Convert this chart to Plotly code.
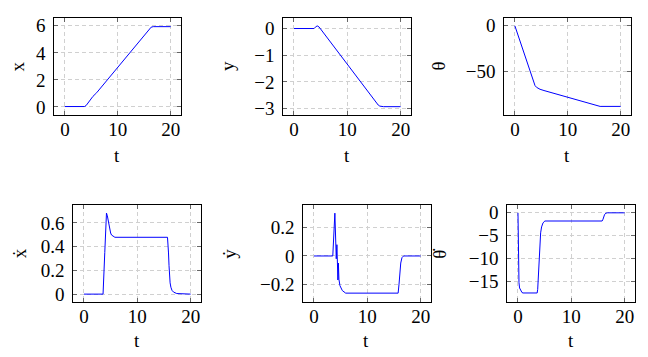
import plotly.graph_objects as go

# ---------------- data ----------------
t_x = [0, 3.7, 4.0, 4.4, 4.8, 5.3, 6.0, 15.7, 16.0, 16.3, 16.7, 20]
x_pos = [0.03, 0.03, 0.1, 0.33, 0.55, 0.78, 1.05, 5.68, 5.82, 5.9, 5.94, 5.94]

t_y = [0, 3.75, 4.0, 4.35, 4.7, 5.0, 5.5, 6.0, 15.8, 16.1, 16.4, 16.8, 20]
y_pos = [0, 0, 0.05, 0.1, 0.06, -0.02, -0.14, -0.27, -2.87, -2.91, -2.93, -2.93, -2.93]

t_th = [0, 3.8, 4.1, 4.4, 4.75, 5.5, 15.7, 16.1, 20]
theta = [0, -65.5, -67.5, -68.8, -69.6, -71.0, -88.0, -88.4, -88.4]

t_xd = [0, 3.58, 3.9, 4.1, 4.22, 4.38, 4.53, 4.7, 4.85, 5.0, 5.17, 5.45, 5.8,
        15.66, 15.75, 15.85, 15.95, 16.04, 16.15, 16.3, 16.5, 16.8, 17.4, 20]
x_dot = [0, 0, 0.35, 0.62, 0.683, 0.66, 0.622, 0.575, 0.54, 0.515, 0.498, 0.486, 0.479,
         0.479, 0.43, 0.347, 0.24, 0.154, 0.095, 0.058, 0.032, 0.017, 0.005, 0.0]

t_yd = [0, 3.53, 3.92, 4.18, 4.3, 4.49, 4.58, 4.68, 4.87, 5.32, 5.95,
        15.78, 15.95, 16.1, 16.27, 16.5, 16.8, 20]
y_dot = [0, 0, 0.303, -0.02, 0.08, -0.17, -0.05, -0.165, -0.21, -0.245, -0.263,
         -0.263, -0.2, -0.12, -0.05, -0.012, 0, 0]

t_thd = [0, 0.02, 0.1, 0.19, 0.3, 0.51, 0.75, 0.95, 3.6, 3.7, 3.78, 3.95, 4.1, 4.25,
         4.43, 4.7, 5.05, 15.78, 15.95, 16.1, 16.25, 16.5, 16.8, 20]
theta_dot = [0, -5, -11.5, -15.3, -16.5, -17.1, -17.5, -17.6, -17.6, -16.8, -14.5, -10,
             -6.6, -4.4, -3.1, -2.2, -1.8, -1.8, -1.4, -0.8, -0.35, -0.08, 0, 0]

x_ticks = [0, 10, 20]
y_labels = ["x", "y", "θ", "ẋ", "ẏ", "θ̇"]
x_label = "t"
y_tick_sets = [[0, 2, 4, 6], [-3, -2, -1, 0], [-50, 0],
               [0, 0.2, 0.4, 0.6], [-0.2, 0, 0.2], [-15, -10, -5, 0]]
y_ranges = [[-0.6, 6.58], [-3.245, 0.395], [-97.9, 8.6],
            [-0.069, 0.749], [-0.328, 0.359], [-19.65, 1.66]]

series = [(t_x, x_pos), (t_y, y_pos), (t_th, theta),
          (t_xd, x_dot), (t_yd, y_dot), (t_thd, theta_dot)]

# ---------------- layout (pixel geometry) ----------------
W, H = 648, 357
panels_px = [  # left, right, top, bottom of plot frames
    (54.3, 181.3, 15.3, 114.3), (283.3, 411.3, 15.3, 114.3), (504.3, 631.3, 15.3, 114.3),
    (73.3, 201.3, 206.3, 305.3), (303.3, 431.3, 206.3, 305.3), (507.3, 635.3, 206.3, 305.3),
]
ytitle_px = [(18.0, 64.8), (227.5, 64.8), (439.0, 64.8),
             (19.5, 255.8), (230.0, 255.8), (440.0, 255.8)]
xtitle_px = [(117.3, 156), (346.7, 156), (567.3, 156),
             (136.7, 344), (366.0, 344), (570.7, 344)]

FONT = "Liberation Serif"
FS = 19

fig = go.Figure()
layout = dict(
    width=W, height=H, margin=dict(l=0, r=0, t=0, b=0),
    paper_bgcolor="white", plot_bgcolor="white", showlegend=False,
    font=dict(family=FONT, size=FS, color="black"),
)
annotations = []
for i, ((tt, vv), (l, r, tp, bt)) in enumerate(zip(series, panels_px)):
    n = i + 1
    xa = "x" if n == 1 else f"x{n}"
    ya = "y" if n == 1 else f"y{n}"
    fig.add_trace(go.Scatter(x=tt, y=vv, mode="lines", xaxis=xa, yaxis=ya,
                             line=dict(color="#0000ff", width=1)))
    common = dict(showline=True, linecolor="black", linewidth=1, mirror="allticks",
                  ticks="inside", ticklen=4, tickwidth=1, tickcolor="#666666",
                  showgrid=True, gridcolor="#d0d0d0", gridwidth=1, griddash="4px,3px",
                  zeroline=False, tickfont=dict(family=FONT, size=FS, color="black"))
    layout[f"xaxis{n if n > 1 else ''}"] = dict(
        domain=[l / W, r / W], anchor=ya, range=[-2, 22], tickmode="array",
        tickvals=x_ticks, ticklabelstandoff=-3, **common)
    layout[f"yaxis{n if n > 1 else ''}"] = dict(
        domain=[1 - bt / H, 1 - tp / H], anchor=xa, range=y_ranges[i], tickmode="array",
        tickvals=y_tick_sets[i], ticklabelstandoff=4, **common)
    yx, yy = ytitle_px[i]
    annotations.append(dict(text=y_labels[i], xref="paper", yref="paper", x=yx / W,
                            y=1 - yy / H, xanchor="center", yanchor="middle",
                            textangle=-90, showarrow=False,
                            font=dict(family=FONT, size=FS, color="black")))
    tx, ty = xtitle_px[i]
    annotations.append(dict(text=x_label, xref="paper", yref="paper", x=tx / W,
                            y=1 - ty / H, xanchor="center", yanchor="middle",
                            showarrow=False, font=dict(family=FONT, size=FS, color="black")))
layout["annotations"] = annotations
fig.update_layout(**layout)
fig.write_html("out.html", config={"displayModeBar": False},
               post_script="document.body.style.margin='0';document.body.style.overflow='hidden';")
